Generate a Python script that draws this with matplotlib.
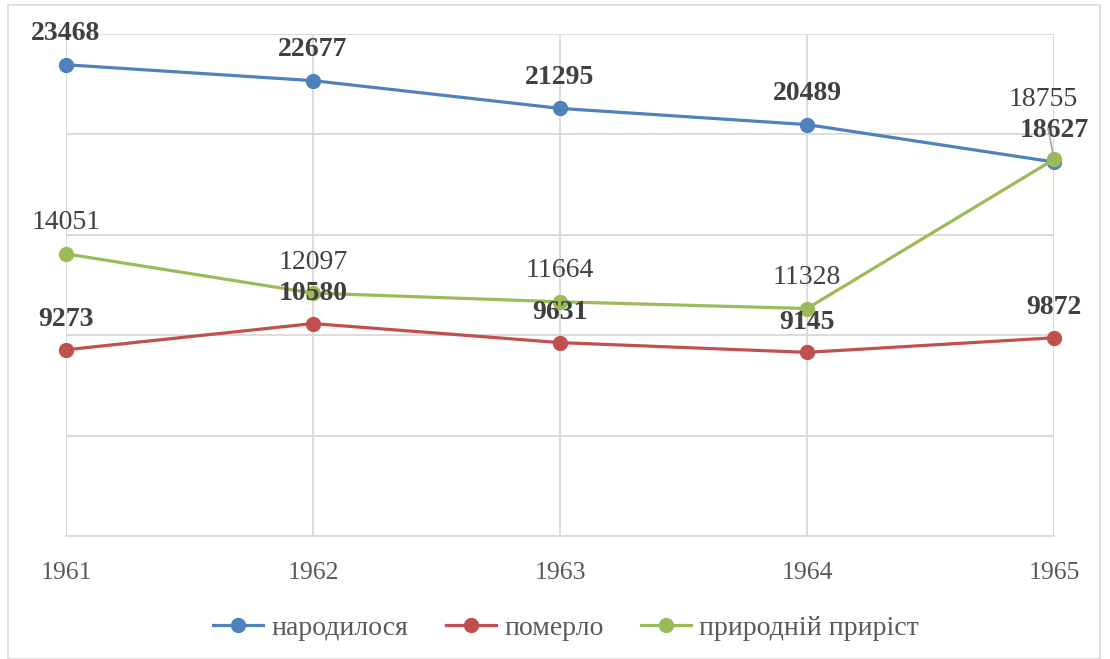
import matplotlib
matplotlib.use("Agg")
import matplotlib.pyplot as plt
from matplotlib.patches import Rectangle
from matplotlib.lines import Line2D

years = ["1961", "1962", "1963", "1964", "1965"]
born = [23468, 22677, 21295, 20489, 18627]
died = [9273, 10580, 9631, 9145, 9872]
growth = [14051, 12097, 11664, 11328, 18755]
series_names = ["народилося", "померло", "природній приріст"]

colors = ["#4f81bd", "#c0504d", "#9bbb59"]
plt.rcParams["font.family"] = ["Liberation Serif", "DejaVu Serif"]

W, H = 1110, 659
fig = plt.figure(figsize=(W / 100, H / 100), dpi=100)
fig.patches.append(Rectangle((8 / W, 0), (1100 - 8) / W, (H - 5) / H, transform=fig.transFigure,
                             fill=False, edgecolor="#d9d9d9", linewidth=1.2))

ax = fig.add_axes([66 / W, (H - 536) / H, (1054 - 66) / W, (536 - 34) / H])
x = list(range(len(years)))

for i, (vals, c) in enumerate(zip([born, died, growth], colors)):
    ax.plot(x, vals, color=c, linewidth=2.3, marker="o", markersize=10,
            solid_capstyle="round", zorder=3 + i, clip_on=False)

ax.set_xlim(0, 4)
ax.set_ylim(0, 25000)
ax.set_yticks([0, 5000, 10000, 15000, 20000, 25000])
ax.set_yticklabels([])
ax.set_xticks(x)
ax.set_xticklabels(years, fontsize=18.5, color="#595959")
ax.tick_params(axis="x", length=0, pad=19)
ax.tick_params(axis="y", length=0)
ax.grid(True, color="#d9d9d9", linewidth=1.3)
ax.set_axisbelow(True)
for s in ["top", "right", "left"]:
    ax.spines[s].set_visible(False)
ax.spines["bottom"].set_color("#d9d9d9")
ax.spines["bottom"].set_linewidth(1.3)

lab_col = "#404040"
for xi, v in enumerate(born):
    ax.annotate(str(v), (xi, v), xytext=(0, 31), textcoords="offset pixels",
                ha="center", va="center", fontsize=20, fontweight="bold", color=lab_col, zorder=10)
for xi, v in enumerate(died):
    ax.annotate(str(v), (xi, v), xytext=(0, 30), textcoords="offset pixels",
                ha="center", va="center", fontsize=20, fontweight="bold", color=lab_col, zorder=10)
for xi, v in enumerate(growth):
    if xi == 4:
        ax.annotate(str(v), (xi, v), xytext=(-11, 60), textcoords="offset pixels",
                    ha="center", va="center", fontsize=20, color=lab_col, zorder=10,
                    arrowprops=dict(arrowstyle="-", color="#a6a6a6", lw=1.2,
                                    shrinkA=10, shrinkB=0))
    else:
        ax.annotate(str(v), (xi, v), xytext=(0, 31), textcoords="offset pixels",
                    ha="center", va="center", fontsize=20, color=lab_col, zorder=10)

handles = [Line2D([], [], color=c, linewidth=2.3, marker="o", markersize=10) for c in colors]
leg = fig.legend(handles, series_names, loc="center", bbox_to_anchor=(566 / W, (H - 628) / H),
                 ncol=3, frameon=False, fontsize=20, handlelength=1.8, handletextpad=0.3,
                 columnspacing=1.35, borderpad=0)
for t in leg.get_texts():
    t.set_color("#595959")

fig.savefig("out.png", dpi=100)
